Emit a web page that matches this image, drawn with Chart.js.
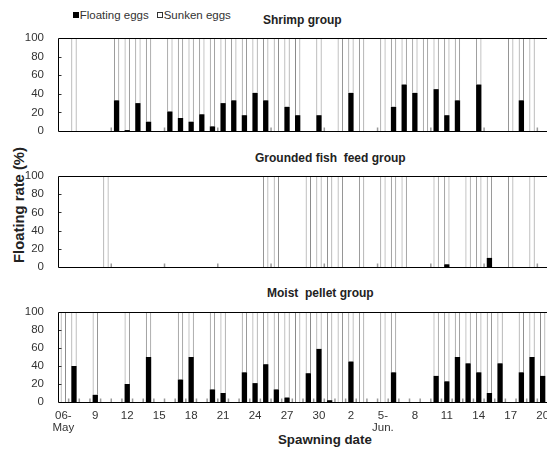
<!DOCTYPE html>
<html>
<head>
<meta charset="utf-8">
<title>Floating rate of eggs</title>
<script src="https://cdn.jsdelivr.net/npm/chart.js@4.4.1/dist/chart.umd.min.js"></script>
<style>
    html, body {
        margin: 0;
        padding: 0;
        width: 547px;
        height: 452px;
        overflow: hidden;
        background: #fff;
    }
    body {
        position: relative;
        font-family: "Liberation Sans", Arial, sans-serif;
        color: #222;
    }
    canvas {
        position: absolute;
        left: 0;
    }
    .label {
        position: absolute;
        white-space: pre;
    }
    .legend-item {
        font-size: 11.5px;
        line-height: 12px;
        top: 9px;
        color: #333;
    }
    .sq {
        display: inline-block;
        width: 6px;
        height: 6px;
        margin: 0 1px 1px 0;
        box-sizing: border-box;
    }
    .sq.filled { background: #000; }
    .sq.hollow { border: 1px solid #333; background: #fff; }
    .panel-title {
        font-size: 12px;
        line-height: 12px;
        font-weight: bold;
    }
    .axis-title {
        font-weight: bold;
    }
    #yTitle {
        left: 19px;
        top: 205px;
        font-size: 14.8px;
        line-height: 15px;
        transform: translate(-50%, -50%) rotate(-90deg);
    }
    #xTitle {
        left: 278px;
        top: 433px;
        font-size: 13.3px;
        line-height: 14px;
    }
    #shrimpCanvas { top: 28px; }
    #fishFeedCanvas { top: 166px; }
    #moistCanvas { top: 302px; }
</style>
</head>
<body>
    <div class="label legend-item" style="left:72.7px"><span class="sq filled"></span>Floating eggs</div>
    <div class="label legend-item" style="left:156.7px"><span class="sq hollow"></span>Sunken eggs</div>

    <div class="label panel-title" style="left:263px; top:13.5px">Shrimp group</div>
    <div class="label panel-title" style="left:255px; top:151.5px">Grounded fish  feed group</div>
    <div class="label panel-title" style="left:267px; top:286.5px">Moist  pellet group</div>

    <div class="label axis-title" id="yTitle">Floating rate (%)</div>
    <div class="label axis-title" id="xTitle">Spawning date</div>

    <canvas id="shrimpCanvas" width="560" height="113"></canvas>
    <canvas id="fishFeedCanvas" width="560" height="111"></canvas>
    <canvas id="moistCanvas" width="560" height="140"></canvas>

<script>
// spawning dates, 06 May to 20 Jun
const spawningDates = [
    'May 6', 'May 7', 'May 8', 'May 9', 'May 10', 'May 11', 'May 12', 'May 13', 'May 14', 'May 15',
    'May 16', 'May 17', 'May 18', 'May 19', 'May 20', 'May 21', 'May 22', 'May 23', 'May 24', 'May 25',
    'May 26', 'May 27', 'May 28', 'May 29', 'May 30', 'May 31', 'Jun 1', 'Jun 2', 'Jun 3', 'Jun 4',
    'Jun 5', 'Jun 6', 'Jun 7', 'Jun 8', 'Jun 9', 'Jun 10', 'Jun 11', 'Jun 12', 'Jun 13', 'Jun 14',
    'Jun 15', 'Jun 16', 'Jun 17', 'Jun 18', 'Jun 19', 'Jun 20'
];

// every third date gets a label
const dateTickLabels = [['06-', 'May'], '9', '12', '15', '18', '21', '24', '27', '30', '2', ['5-', 'Jun.'], '8', '11', '14', '17', '20'];

const yTickValues = [0, 20, 40, 60, 80, 100];

// floating eggs (%), null = no spawning that day
const shrimpFloating = [
    null, 0, null, null, null, 33, 1, 30, 10, null,
    21, 14, 10, 18, 5, 30, 33, 17, 41, 33,
    0, 26, 17, null, 17, null, 0, 41, 0, null,
    0, 26, 50, 41, 0, 45, 17, 33, null, 50,
    null, null, 0, 33, 0, null
];

const fishFeedFloating = [
    null, null, null, null, 0, null, null, null, null, null,
    null, null, null, null, null, null, null, null, null, 0,
    0, null, null, 0, 0, 0, 0, null, 0, null,
    0, 0, 0, null, null, 0, 3, null, 0, 0,
    10, null, 0, null, 0, null
];

const moistPelletFloating = [
    0, 40, null, 8, null, null, 20, null, 50, null,
    null, 25, 50, null, 14, 10, null, 33, 21, 42,
    14, 5, 0, 32, 59, 2, 0, 45, 0, null,
    0, 33, null, null, null, 29, 23, 50, 43, 33,
    10, 43, null, 33, 50, 29
];

// frame lines and the small inside tick marks
const framePlugin = {
    id: 'frame',
    afterDatasetsDraw(chart, args, opts) {
        const { ctx, chartArea, scales: { x, y } } = chart;
        const top = Math.round(y.getPixelForValue(100)) + 0.5;
        const bottom = Math.round(y.getPixelForValue(0)) + 0.5;
        const left = Math.round(chartArea.left) + 0.5;
        const half = (x.getPixelForValue(1) - x.getPixelForValue(0)) / 2;

        ctx.save();
        ctx.strokeStyle = '#999';
        ctx.lineWidth = 1.5;
        ctx.beginPath();
        for (let k = opts.tickEvery; k < spawningDates.length; k += opts.tickEvery) {
            const px = x.getPixelForValue(k) - half;
            ctx.moveTo(px, bottom);
            ctx.lineTo(px, bottom - 4);
        }
        ctx.stroke();

        ctx.strokeStyle = '#333';
        ctx.lineWidth = 1;
        ctx.beginPath();
        y.ticks.forEach(t => {
            if (t.value > 0 && t.value < 100) {
                const py = Math.round(y.getPixelForValue(t.value)) + 0.5;
                ctx.moveTo(left, py);
                ctx.lineTo(left + 3, py);
            }
        });
        ctx.stroke();

        ctx.strokeStyle = '#000';
        ctx.beginPath();
        ctx.moveTo(left, top);
        ctx.lineTo(chartArea.right + 1, top);
        ctx.moveTo(left, top);
        ctx.lineTo(left, bottom);
        ctx.moveTo(left, bottom);
        ctx.lineTo(chartArea.right + 1, bottom);
        ctx.stroke();
        ctx.restore();
    }
};

const panels = [
    { canvas: 'shrimpCanvas', floating: shrimpFloating, tickEvery: 5, showDates: false },
    { canvas: 'fishFeedCanvas', floating: fishFeedFloating, tickEvery: 5, showDates: false },
    { canvas: 'moistCanvas', floating: moistPelletFloating, tickEvery: 1, showDates: true }
];

class SpawningFigure {
    constructor() {
        this.charts = [];
        this.init();
    }

    init() {
        Chart.defaults.font.family = "'Liberation Sans', Arial, sans-serif";
        Chart.defaults.font.size = 11.5;
        Chart.defaults.color = '#333';
        panels.forEach(panel => {
            this.charts.push(this.createPanel(panel));
        });
    }

    createPanel(panel) {
        const ctx = document.getElementById(panel.canvas).getContext('2d');
        const sunken = panel.floating.map(v => v === null ? null : 100 - v);

        return new Chart(ctx, {
            type: 'bar',
            data: {
                labels: spawningDates,
                datasets: [{
                    label: 'Floating eggs',
                    data: panel.floating,
                    backgroundColor: '#000',
                    borderWidth: 0,
                    barPercentage: 0.5,
                    categoryPercentage: 1
                }, {
                    label: 'Sunken eggs',
                    data: sunken,
                    backgroundColor: '#fff',
                    borderColor: '#8a8a8a',
                    borderWidth: 1,
                    barPercentage: 0.5,
                    categoryPercentage: 1
                }]
            },
            options: {
                responsive: false,
                animation: false,
                devicePixelRatio: 1,
                layout: {
                    padding: { top: 10, right: 12, bottom: panel.showDates ? 0 : 10, left: 0 }
                },
                plugins: {
                    legend: { display: false },
                    tooltip: { enabled: false },
                    frame: { tickEvery: panel.tickEvery }
                },
                scales: {
                    x: {
                        stacked: true,
                        grid: { display: false, drawTicks: false },
                        border: { display: false },
                        ticks: {
                            display: panel.showDates,
                            autoSkip: false,
                            maxRotation: 0,
                            padding: 7.5,
                            font: { lineHeight: 1.05 },
                            callback: (value, index) => index % 3 === 0 ? dateTickLabels[index / 3] : ''
                        },
                        afterFit: (scale) => {
                            scale.height = panel.showDates ? 40 : 0;
                            scale.paddingLeft = 0;
                            scale.paddingRight = 0;
                        }
                    },
                    y: {
                        stacked: true,
                        min: 0,
                        max: 100,
                        grid: { display: false, drawTicks: false },
                        border: { display: false },
                        ticks: {
                            stepSize: 20,
                            padding: 14,
                            autoSkip: false,
                            callback: (value) => yTickValues.includes(value) ? value : ''
                        },
                        afterFit: (scale) => {
                            scale.width = 58;
                            scale.paddingTop = 0;
                            scale.paddingBottom = 0;
                        }
                    }
                }
            },
            plugins: [framePlugin]
        });
    }
}

document.addEventListener('DOMContentLoaded', () => {
    new SpawningFigure();
});
</script>
</body>
</html>
